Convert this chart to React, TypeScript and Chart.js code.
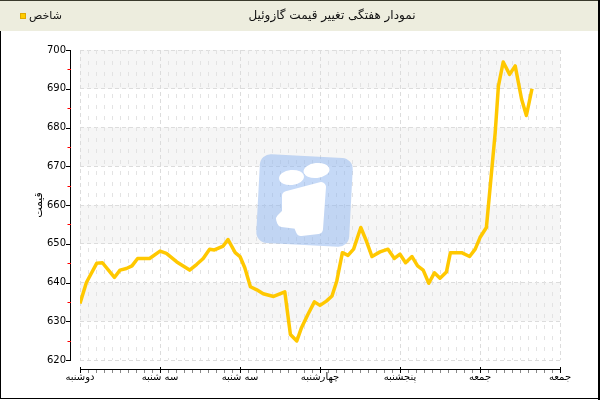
import React, { useEffect, useRef } from 'react';
import { Chart, registerables } from 'chart.js';

Chart.register(...registerables);

const titleText = 'نمودار هفتگی تغییر قیمت گازوئیل';
const legendText = 'شاخص';
const yAxisTitle = 'قیمت';
const dayLabels = ['دوشنبه', 'سه شنبه', 'سه شنبه', 'چهارشنبه', 'پنجشنبه', 'جمعه', 'جمعه'];
const yMin = 620;
const yMax = 700;
const yStep = 10;

const pointDays = [
  0, 0.08, 0.21, 0.28, 0.43, 0.5, 0.58, 0.65, 0.72, 0.87,
  1.0, 1.08, 1.21, 1.37, 1.46, 1.54, 1.62, 1.68, 1.79, 1.85,
  1.94, 2.0, 2.06, 2.13, 2.21, 2.29, 2.42, 2.56, 2.63, 2.71,
  2.77, 2.85, 2.93, 3.0, 3.08, 3.15, 3.21, 3.28, 3.35, 3.42,
  3.51, 3.58, 3.65, 3.75, 3.85, 3.93, 4.0, 4.07, 4.15, 4.22,
  4.29, 4.36, 4.43, 4.5, 4.58, 4.63, 4.77, 4.87, 4.94, 5.0,
  5.08, 5.19, 5.23, 5.29, 5.37, 5.44, 5.52, 5.58, 5.65,
];

const prices = [
  634.6, 640, 645, 645.1, 641.3, 643.2, 643.6, 644.3, 646.2, 646.2,
  648.1, 647.5, 645.3, 643.2, 644.7, 646.2, 648.6, 648.4, 649.4, 651.1,
  647.7, 646.7, 643.8, 638.9, 638.1, 637.1, 636.4, 637.6, 626.6, 624.9,
  628.4, 631.8, 635.0, 634.1, 635.2, 636.5, 640.4, 647.7, 647.0, 648.6,
  654.2, 650.7, 646.7, 647.9, 648.6, 646.2, 647.3, 645.1, 646.7, 644.3,
  643.2, 639.8, 642.5, 641.1, 642.7, 647.7, 647.7, 646.7, 648.6, 651.6,
  654.2, 678.7, 690.7, 696.9, 693.7, 695.9, 687.3, 683.1, 690.0,
];

const FONT = '"DejaVu Sans", sans-serif';
const LINE_COLOR = '#FFC800';

const decor = {
  id: 'decor',
  beforeDraw(chart: any) {
    const { ctx, chartArea: a, scales } = chart;
    const y = scales.y;
    ctx.save();
    ctx.fillStyle = '#ffffff';
    ctx.fillRect(0, 0, chart.width, chart.height);
    // alternating bands
    ctx.fillStyle = '#f6f6f6';
    for (let v = yMin + yStep; v < yMax; v += 2 * yStep) {
      const t = y.getPixelForValue(v + yStep);
      const b = y.getPixelForValue(v);
      ctx.fillRect(a.left, t, a.right - a.left, b - t);
    }
    // header
    ctx.fillStyle = '#EDEDDE';
    ctx.fillRect(0, 0, chart.width, 31);
    ctx.strokeStyle = '#3a3a2c';
    ctx.lineWidth = 1;
    ctx.beginPath();
    ctx.moveTo(0, 0.5);
    ctx.lineTo(chart.width, 0.5);
    ctx.stroke();
    ctx.fillStyle = '#111';
    ctx.font = '12px ' + FONT;
    ctx.textAlign = 'center';
    ctx.textBaseline = 'middle';
    ctx.fillText(titleText, 332, 16);
    // legend
    ctx.fillStyle = '#FFCC00';
    ctx.fillRect(20, 13, 6, 6);
    ctx.strokeStyle = '#E0A800';
    ctx.strokeRect(20.5, 13.5, 5, 5);
    ctx.fillStyle = '#111';
    ctx.font = '11px ' + FONT;
    ctx.textAlign = 'left';
    ctx.fillText(legendText, 29, 16);
    // frame
    ctx.strokeStyle = '#000';
    ctx.beginPath();
    ctx.moveTo(0.5, 31);
    ctx.lineTo(0.5, 399);
    ctx.moveTo(0, 398.5);
    ctx.lineTo(600, 398.5);
    ctx.stroke();
    ctx.lineWidth = 2;
    ctx.beginPath();
    ctx.moveTo(599, 0);
    ctx.lineTo(599, 400);
    ctx.stroke();
    ctx.restore();
  },
  beforeDatasetsDraw(chart: any) {
    const { ctx, chartArea: a, scales } = chart;
    const x = scales.x;
    ctx.save();
    // minor vertical grid
    ctx.strokeStyle = '#e3e3e3';
    ctx.lineWidth = 1;
    ctx.setLineDash([4, 7]);
    for (let i = 1; i < 60; i++) {
      if (i % 10 === 0) continue;
      const px = Math.round(x.getPixelForValue(i / 10)) + 0.5;
      ctx.beginPath();
      ctx.moveTo(px, a.top);
      ctx.lineTo(px, a.bottom);
      ctx.stroke();
    }
    ctx.setLineDash([]);
    // watermark
    ctx.save();
    ctx.translate(304.5, 201);
    ctx.rotate((3 * Math.PI) / 180);
    ctx.fillStyle = 'rgba(140,180,240,0.5)';
    ctx.beginPath();
    (ctx as any).roundRect(-46.5, -45, 93, 89, 11);
    ctx.fill();
    ctx.restore();
    ctx.fillStyle = '#ffffff';
    ctx.beginPath();
    ctx.ellipse(291.5, 177.5, 12.5, 7.5, -0.1, 0, Math.PI * 2);
    ctx.fill();
    ctx.beginPath();
    ctx.ellipse(316.5, 170.5, 13, 7.5, -0.1, 0, Math.PI * 2);
    ctx.fill();
    ctx.strokeStyle = '#ffffff';
    ctx.lineWidth = 10;
    ctx.lineJoin = 'round';
    ctx.beginPath();
    ctx.moveTo(287, 196);
    ctx.lineTo(321, 187);
    ctx.lineTo(318, 229);
    ctx.lineTo(301, 231);
    ctx.lineTo(298, 224);
    ctx.lineTo(282, 222);
    ctx.lineTo(281, 219);
    ctx.lineTo(287, 213);
    ctx.closePath();
    ctx.fill();
    ctx.stroke();
    ctx.restore();
  },
  afterDraw(chart: any) {
    const { ctx, chartArea: a, scales } = chart;
    const x = scales.x;
    const y = scales.y;
    ctx.save();
    ctx.lineWidth = 1;
    // y axis line
    ctx.strokeStyle = '#000';
    ctx.beginPath();
    ctx.moveTo(70.5, a.top);
    ctx.lineTo(70.5, a.bottom + 1);
    ctx.stroke();
    for (let v = yMin; v <= yMax; v += yStep) {
      const py = Math.round(y.getPixelForValue(v)) + 0.5;
      ctx.beginPath();
      ctx.moveTo(66, py);
      ctx.lineTo(71, py);
      ctx.stroke();
    }
    ctx.strokeStyle = '#ff0000';
    for (let v = yMin + yStep / 2; v < yMax; v += yStep) {
      const py = Math.round(y.getPixelForValue(v)) + 0.5;
      ctx.beginPath();
      ctx.moveTo(67.5, py);
      ctx.lineTo(71, py);
      ctx.stroke();
    }
    // x axis
    const ay = 369.5;
    ctx.strokeStyle = '#000';
    ctx.beginPath();
    ctx.moveTo(a.left, ay);
    ctx.lineTo(a.right + 1, ay);
    ctx.stroke();
    for (let i = 0; i <= 6; i++) {
      const px = Math.round(x.getPixelForValue(i)) + 0.5;
      ctx.beginPath();
      ctx.moveTo(px, 367);
      ctx.lineTo(px, 373);
      ctx.stroke();
    }
    ctx.strokeStyle = '#888';
    for (let i = 1; i < 60; i++) {
      if (i % 10 === 0) continue;
      const px = Math.round(x.getPixelForValue(i / 10)) + 0.5;
      ctx.beginPath();
      ctx.moveTo(px, 370);
      ctx.lineTo(px, 373);
      ctx.stroke();
    }
    ctx.restore();
  },
};

export default function App() {
  const ref = useRef<HTMLCanvasElement>(null);
  useEffect(() => {
    document.body.style.margin = '0';
    if (!ref.current) return;
    const data = pointDays.map((d, i) => ({ x: d, y: prices[i] }));
    const chart = new Chart(ref.current, {
      type: 'line',
      data: {
        datasets: [
          {
            label: legendText,
            data,
            borderColor: LINE_COLOR,
            backgroundColor: LINE_COLOR,
            borderWidth: 3.5,
            pointRadius: 0,
            tension: 0,
            fill: false,
            borderJoinStyle: 'round',
          },
        ],
      },
      options: {
        responsive: false,
        animation: false,
        devicePixelRatio: 1,
        layout: { padding: { top: 50, right: 40, bottom: 0, left: 33 } },
        plugins: { legend: { display: false }, title: { display: false }, tooltip: { enabled: false } },
        scales: {
          x: {
            type: 'linear',
            min: 0,
            max: 6,
            ticks: {
              stepSize: 1,
              padding: 11.5,
              maxRotation: 0,
              autoSkip: false,
              color: '#000',
              font: { family: FONT, size: 10 },
              callback: (v: any) => dayLabels[Math.round(Number(v))] ?? '',
            },
            grid: { color: '#dcdcdc', drawTicks: false, lineWidth: 1 },
            border: { display: false, dash: [4, 3] },
            afterFit: (s: any) => {
              s.height = 40;
            },
          },
          y: {
            min: yMin,
            max: yMax,
            ticks: {
              stepSize: yStep,
              padding: 14,
              color: '#000',
              font: { family: FONT, size: 10 },
            },
            grid: { color: '#dcdcdc', drawTicks: false, lineWidth: 1 },
            border: { display: false, dash: [4, 3] },
            title: {
              display: true,
              text: yAxisTitle,
              color: '#000',
              padding: 0,
              font: { family: FONT, size: 11 },
            },
            afterFit: (s: any) => {
              s.width = 47;
            },
          },
        },
      } as any,
      plugins: [decor],
    });
    return () => chart.destroy();
  }, []);
  return (
    <div style={{ width: 600, height: 400 }}>
      <canvas ref={ref} width={600} height={400} style={{ display: 'block' }} />
    </div>
  );
}
